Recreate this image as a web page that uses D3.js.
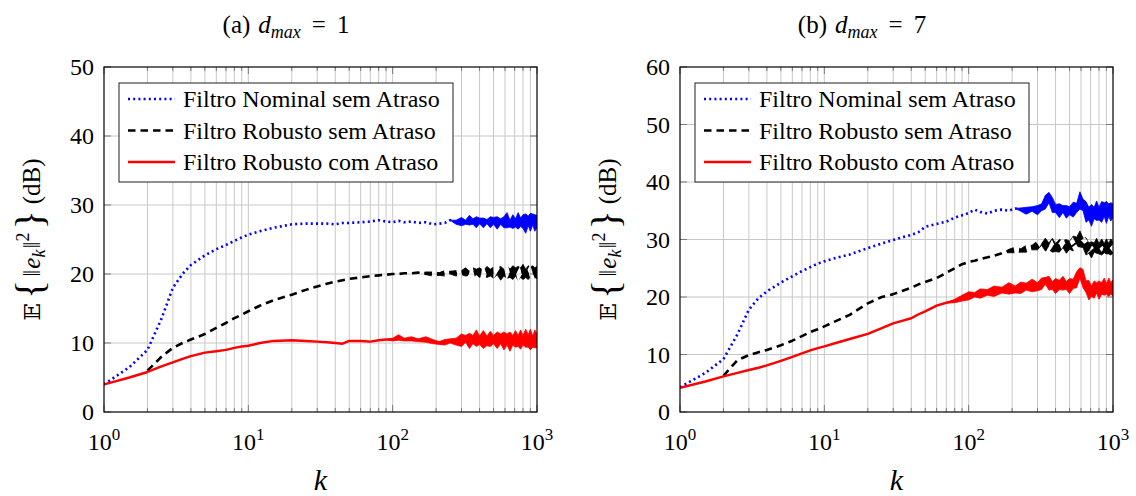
<!DOCTYPE html>
<html>
<head>
<meta charset="utf-8">
<script src="https://cdn.jsdelivr.net/npm/d3@7"></script>
<style>
  body { margin: 0; background: #fff; }
  svg { display: block; }
  text { font-family: "Liberation Serif", "Times New Roman", serif; fill: #000; }
</style>
</head>
<body>
<svg id="chart" width="1136" height="496" font-family="Liberation Serif, serif"></svg>
<script>
// Iteration index k (sampling nodes shared by every curve)
const kValues = [1, 1.5, 2, 2.5, 3, 3.5, 4, 5, 6, 7, 8, 9, 10, 12, 15, 20, 25, 30, 35, 40, 45, 50,
  60, 70, 80, 90, 100, 110, 120, 135, 150, 170, 190, 210, 230, 250, 275, 300, 320, 340, 360, 380,
  400, 425, 450, 475, 500, 530, 560, 590, 620, 650, 680, 710, 740, 770, 800, 835, 870, 900, 935, 965, 1000];

const seriesNames = ["Filtro Nominal sem Atraso", "Filtro Robusto sem Atraso", "Filtro Robusto com Atraso"];

// (a) d_max = 1 : mean squared error in dB
const nominalA = [4.0, 6.5, 9.0, 13.5, 18.0, 20.0, 21.3, 22.7, 23.6, 24.2, 24.8, 25.3, 25.7, 26.2, 26.7, 27.2, 27.3, 27.3, 27.3, 27.2, 27.4, 27.4,
  27.5, 27.6, 27.8, 27.6, 27.5, 27.7, 27.5, 27.6, 27.4, 27.5, 27.2, 27.3, 27.4, 27.8, 27.5, 27.6, 27.5, 27.8, 27.6, 27.5,
  27.7, 27.4, 27.6, 27.5, 27.7, 27.4, 27.6, 27.5, 27.8, 27.3, 27.6, 27.4, 27.7, 27.5, 27.6, 27.3, 27.7, 27.5, 27.9, 27.4, 27.6];
const robustoA = [null, null, 6.0, 8.0, 9.3, 10.0, 10.5, 11.3, 12.2, 12.9, 13.6, 14.1, 14.6, 15.4, 16.2, 17.0, 17.7, 18.2, 18.6, 18.9, 19.1, 19.3,
  19.5, 19.7, 19.8, 19.9, 20.0, 20.0, 20.1, 20.1, 20.2, 20.1, 20.0, 20.0, 20.1, 20.2, 20.1, 20.2, 20.3, 20.1, 20.2, 20.3,
  20.2, 20.1, 20.3, 20.2, 20.2, 20.4, 20.1, 20.2, 20.3, 20.1, 20.2, 20.3, 20.1, 20.2, 20.3, 20.1, 20.2, 20.3, 20.1, 20.2, 20.2];
const atrasoA = [4.0, 5.0, 5.8, 6.6, 7.2, 7.7, 8.1, 8.6, 8.8, 9.0, 9.3, 9.5, 9.6, 10.0, 10.3, 10.4, 10.3, 10.2, 10.1, 10.0, 9.9, 10.3,
  10.3, 10.2, 10.4, 10.5, 10.5, 10.8, 10.5, 10.6, 10.4, 10.5, 10.2, 10.0, 10.1, 10.3, 10.2, 10.4, 10.6, 10.3, 10.5, 10.7,
  10.4, 10.5, 10.3, 10.6, 10.5, 10.4, 10.6, 10.3, 10.5, 10.2, 10.4, 10.6, 10.3, 10.5, 10.4, 10.7, 10.3, 10.5, 10.2, 10.6, 10.3];
// half-width of the fluctuation around each curve (dB)
const nominalSpreadA = [0, 0, 0, 0, 0, 0, 0, 0, 0, 0, 0, 0, 0, 0, 0, 0, 0, 0, 0, 0, 0, 0,
  0, 0, 0, 0, 0, 0, 0, 0, 0, 0, 0, 0, 0, 0, 0.3, 0.6, 0.3, 0.7, 0.4, 0.8,
  0.4, 0.7, 0.3, 0.8, 0.5, 0.9, 0.4, 0.8, 1.1, 0.5, 1.0, 0.6, 1.2, 0.6, 1.0, 1.4, 0.7, 1.3, 0.8, 1.2, 0.9];
const robustoSpreadA = [0, 0, 0, 0, 0, 0, 0, 0, 0, 0, 0, 0, 0, 0, 0, 0, 0, 0, 0, 0, 0, 0,
  0, 0, 0, 0, 0, 0, 0, 0, 0, 0.2, 0.3, 0.2, 0.4, 0.2, 0.4, 0.3, 0.6, 0.3, 0.7, 0.4,
  0.7, 0.4, 0.8, 0.5, 0.8, 0.5, 1.0, 0.5, 0.9, 0.6, 1.0, 0.6, 1.0, 0.7, 1.1, 0.6, 1.0, 0.7, 1.1, 0.7, 0.9];
const atrasoSpreadA = [0, 0, 0, 0, 0, 0, 0, 0, 0, 0, 0, 0, 0, 0, 0, 0, 0, 0, 0, 0, 0, 0,
  0, 0, 0, 0, 0.2, 0.4, 0.2, 0.3, 0.2, 0.4, 0.3, 0.2, 0.4, 0.3, 0.5, 0.9, 0.5, 1.1, 0.6, 1.2,
  0.6, 1.3, 0.7, 1.1, 0.6, 1.2, 0.7, 1.3, 0.8, 1.4, 0.7, 1.2, 0.8, 1.4, 0.7, 1.3, 0.9, 1.5, 0.8, 1.3, 1.0];

// (b) d_max = 7
const nominalB = [4.3, 6.8, 9.2, 13.5, 17.8, 19.8, 21.0, 22.5, 23.6, 24.5, 25.2, 25.8, 26.2, 26.8, 27.4, 28.5, 29.3, 29.9, 30.4, 30.8, 31.3, 32.2,
  32.7, 33.1, 33.8, 34.2, 34.6, 35.2, 34.8, 34.5, 35.0, 35.2, 35.0, 35.4, 35.2, 35.0, 35.3, 35.1, 35.6, 36.5, 37.3, 36.0,
  35.4, 35.0, 35.3, 34.8, 35.0, 35.2, 35.5, 36.8, 36.0, 34.8, 34.5, 34.2, 34.6, 35.0, 34.5, 34.8, 35.2, 34.7, 35.1, 34.8, 35.0];
const robustoB = [null, null, 6.3, 9.0, 9.9, 10.4, 10.8, 11.6, 12.4, 13.2, 13.9, 14.4, 14.9, 15.8, 16.9, 18.9, 20.0, 20.5, 21.1, 21.6, 22.2, 22.6,
  23.3, 24.2, 25.0, 25.7, 26.1, 26.3, 26.6, 26.9, 27.2, 27.6, 28.0, 28.2, 28.1, 28.4, 28.6, 29.0, 29.5, 29.1, 28.8, 29.0,
  28.6, 28.9, 29.2, 28.8, 29.0, 29.3, 29.6, 30.1, 29.4, 28.8, 28.5, 28.2, 28.6, 28.9, 28.4, 28.7, 28.5, 28.8, 28.4, 28.7, 28.6];
const atrasoB = [4.2, 5.3, 6.2, 6.8, 7.3, 7.7, 8.1, 8.9, 9.6, 10.2, 10.7, 11.1, 11.4, 12.0, 12.7, 13.6, 14.6, 15.4, 15.9, 16.3, 17.0, 17.5,
  18.5, 19.0, 19.3, 19.8, 20.2, 20.4, 20.6, 20.8, 21.0, 21.2, 21.5, 21.3, 21.6, 21.8, 22.0, 21.8, 22.3, 22.8, 22.4, 22.0,
  21.9, 22.1, 22.4, 22.0, 21.9, 22.3, 23.0, 24.2, 23.2, 21.8, 21.2, 21.0, 21.3, 21.6, 21.2, 21.5, 21.8, 21.4, 21.7, 21.5, 21.6];
const nominalSpreadB = [0, 0, 0, 0, 0, 0, 0, 0, 0, 0, 0, 0, 0, 0, 0, 0, 0, 0, 0, 0, 0, 0,
  0, 0, 0, 0, 0, 0, 0, 0, 0, 0, 0, 0, 0.3, 0.6, 0.4, 0.8, 0.6, 1.2, 0.9, 1.3,
  0.7, 1.2, 0.6, 1.1, 0.7, 1.3, 0.8, 1.5, 1.0, 1.8, 1.1, 1.9, 1.0, 1.7, 1.1, 1.8, 1.2, 1.9, 1.1, 1.6, 1.2];
const robustoSpreadB = [0, 0, 0, 0, 0, 0, 0, 0, 0, 0, 0, 0, 0, 0, 0, 0, 0, 0, 0, 0, 0, 0,
  0, 0, 0, 0, 0, 0, 0, 0, 0, 0, 0.3, 0.5, 0.3, 0.6, 0.4, 0.8, 0.5, 1.1, 0.6, 1.2,
  0.7, 1.1, 0.6, 1.2, 0.7, 1.3, 0.8, 1.4, 0.8, 1.5, 0.9, 1.4, 0.8, 1.3, 0.9, 1.4, 0.8, 1.3, 0.9, 1.4, 1.0];
const atrasoSpreadB = [0, 0, 0, 0, 0, 0, 0, 0, 0, 0, 0, 0, 0, 0, 0, 0, 0, 0, 0, 0, 0, 0,
  0, 0, 0.3, 0.5, 0.7, 0.4, 0.8, 0.5, 0.9, 0.5, 1.0, 0.6, 1.0, 0.6, 1.1, 0.7, 1.0, 0.6, 1.2, 0.7,
  1.3, 0.8, 1.2, 0.7, 1.3, 0.8, 1.4, 0.9, 1.6, 1.0, 1.7, 0.9, 1.5, 0.9, 1.6, 1.0, 1.5, 0.9, 1.6, 1.0, 1.4];

const xTickValues = [1, 10, 100, 1000];
const yTicksA = [0, 10, 20, 30, 40, 50];
const yTicksB = [0, 10, 20, 30, 40, 50, 60];

// drawing styles for the three curves
const styles = [
  { color: "#0000ff", width: 2.6, dash: "2,3.2", maskBand: false },
  { color: "#000000", width: 2.6, dash: "7.5,5", maskBand: true },
  { color: "#ff0000", width: 2.4, dash: null, maskBand: false }
];

const svg = d3.select("#chart");
const defs = svg.append("defs");

const panels = [
  { id: "a", left: 104, right: 537, top: 67, bottom: 412, yMax: 50, yTicks: yTicksA,
    label: "a", dval: "1", titleX: 286, ylabelX: 40,
    series: [[nominalA, nominalSpreadA], [robustoA, robustoSpreadA], [atrasoA, atrasoSpreadA]] },
  { id: "b", left: 680, right: 1113, top: 67, bottom: 412, yMax: 60, yTicks: yTicksB,
    label: "b", dval: "7", titleX: 862, ylabelX: 616,
    series: [[nominalB, nominalSpreadB], [robustoB, robustoSpreadB], [atrasoB, atrasoSpreadB]] }
];

panels.forEach(p => {
  const x = d3.scaleLog().domain([1, 1000]).range([p.left, p.right]);
  const y = d3.scaleLinear().domain([0, p.yMax]).range([p.bottom, p.top]);
  const g = svg.append("g");

  // minor + major vertical grid
  const minor = [];
  [1, 10, 100].forEach(d => { for (let m = 2; m <= 9; m++) minor.push(m * d); });
  g.append("g").selectAll("line").data(minor.concat([10, 100])).join("line")
    .attr("x1", d => x(d)).attr("x2", d => x(d))
    .attr("y1", p.top).attr("y2", p.bottom)
    .attr("stroke", "#c8c8c8").attr("stroke-width", 1);
  // horizontal grid
  g.append("g").selectAll("line").data(p.yTicks.filter(v => v > 0 && v < p.yMax)).join("line")
    .attr("x1", p.left).attr("x2", p.right)
    .attr("y1", d => y(d)).attr("y2", d => y(d))
    .attr("stroke", "#c8c8c8").attr("stroke-width", 1);

  // tick marks inside the frame (bottom/top on x, left/right on y)
  const tickG = g.append("g").attr("stroke", "#7a7a7a").attr("stroke-width", 1);
  minor.forEach(k => {
    tickG.append("line").attr("x1", x(k)).attr("x2", x(k)).attr("y1", p.bottom).attr("y2", p.bottom - 4);
    tickG.append("line").attr("x1", x(k)).attr("x2", x(k)).attr("y1", p.top).attr("y2", p.top + 4);
  });
  xTickValues.forEach(k => {
    tickG.append("line").attr("x1", x(k)).attr("x2", x(k)).attr("y1", p.bottom).attr("y2", p.bottom - 7);
    tickG.append("line").attr("x1", x(k)).attr("x2", x(k)).attr("y1", p.top).attr("y2", p.top + 7);
  });
  p.yTicks.forEach(v => {
    tickG.append("line").attr("x1", p.left).attr("x2", p.left + 7).attr("y1", y(v)).attr("y2", y(v));
    tickG.append("line").attr("x1", p.right).attr("x2", p.right - 7).attr("y1", y(v)).attr("y2", y(v));
  });

  // clip region for curves
  const clipId = "clip-" + p.id;
  defs.append("clipPath").attr("id", clipId).append("rect")
    .attr("x", p.left).attr("y", p.top).attr("width", p.right - p.left).attr("height", p.bottom - p.top);
  const plot = g.append("g").attr("clip-path", `url(#${clipId})`);

  p.series.forEach(([vals, spread], i) => {
    const st = styles[i];
    const pts = kValues.map((k, j) => ({ k, v: vals[j], s: spread[j] }));
    const line = d3.line().defined(d => d.v !== null).x(d => x(d.k)).y(d => y(d.v));
    // fluctuation band
    const bandPts = pts.filter((d, j) => d.v !== null && (d.s > 0 || (spread[j + 1] > 0)));
    const area = d3.area().x(d => x(d.k)).y0(d => y(d.v - d.s)).y1(d => y(d.v + d.s));
    const band = plot.append("path").datum(bandPts).attr("d", area)
      .attr("fill", st.color).attr("stroke", st.color).attr("stroke-width", 0.8);
    if (st.maskBand) {
      const maskId = "mask-" + p.id + i;
      defs.append("mask").attr("id", maskId).attr("maskUnits", "userSpaceOnUse")
        .attr("x", 0).attr("y", 0).attr("width", 1136).attr("height", 496)
        .append("path").datum(pts).attr("d", line)
        .attr("fill", "none").attr("stroke", "#fff").attr("stroke-width", 30)
        .attr("stroke-dasharray", st.dash);
      band.attr("mask", `url(#${maskId})`);
    }
    plot.append("path").datum(pts).attr("d", line)
      .attr("fill", "none").attr("stroke", st.color).attr("stroke-width", st.width)
      .attr("stroke-dasharray", st.dash).attr("stroke-linejoin", "round");
  });

  // frame
  g.append("rect").attr("x", p.left).attr("y", p.top)
    .attr("width", p.right - p.left).attr("height", p.bottom - p.top)
    .attr("fill", "none").attr("stroke", "#000").attr("stroke-width", 1.2);

  // y tick labels
  g.append("g").selectAll("text").data(p.yTicks).join("text")
    .attr("x", p.left - 10).attr("y", d => y(d) + 8)
    .attr("text-anchor", "end").attr("font-size", 24).text(d => d);

  // x tick labels 10^n
  xTickValues.forEach(k => {
    const t = g.append("text").attr("x", x(k)).attr("y", p.bottom + 38)
      .attr("text-anchor", "middle").attr("font-size", 24);
    t.append("tspan").text("10");
    t.append("tspan").attr("font-size", 17).attr("dy", -10).text(Math.round(Math.log10(k)));
  });

  // x axis label
  g.append("text").attr("x", (p.left + p.right) / 2).attr("y", 490)
    .attr("text-anchor", "middle").attr("font-size", 30).attr("font-style", "italic").text("k");

  // y axis label: E{ ||e_k||^2 } (dB)
  const yl = g.append("text")
    .attr("transform", `translate(${p.ylabelX},${(p.top + p.bottom) / 2}) rotate(-90)`)
    .attr("text-anchor", "middle").attr("font-size", 25);
  yl.append("tspan").attr("font-family", "DejaVu Serif, DejaVu Sans").attr("font-size", 23).text("\u{1D53C}");
  yl.append("tspan").attr("font-size", 40).attr("dx", 4).attr("dy", 3).text("{");
  yl.append("tspan").attr("dx", 3).attr("dy", -3).text("\u2016");
  yl.append("tspan").attr("font-style", "italic").attr("dx", 1).text("e");
  yl.append("tspan").attr("font-style", "italic").attr("font-size", 18).attr("dy", 5).text("k");
  yl.append("tspan").attr("dx", 1).attr("dy", -5).text("\u2016");
  yl.append("tspan").attr("font-size", 18).attr("dy", -11).text("2");
  yl.append("tspan").attr("font-size", 40).attr("dx", 3).attr("dy", 14).text("}");
  yl.append("tspan").attr("dx", 6).attr("dy", -3).text("(dB)");

  // panel caption
  const tt = svg.append("text").attr("x", p.titleX).attr("y", 33)
    .attr("text-anchor", "middle").attr("font-size", 25);
  tt.append("tspan").text(`(${p.label})`);
  tt.append("tspan").attr("font-style", "italic").attr("dx", 8).text("d");
  tt.append("tspan").attr("font-style", "italic").attr("font-size", 18).attr("dy", 5).text("max");
  tt.append("tspan").attr("dx", 11).attr("dy", -5).text("=");
  tt.append("tspan").attr("dx", 11).text(p.dval);

  // legend
  const lx = p.left + 15, ly = 83;
  const lg = g.append("g");
  lg.append("rect").attr("x", lx).attr("y", ly).attr("width", 334).attr("height", 99)
    .attr("fill", "#fff").attr("stroke", "#333").attr("stroke-width", 1.1);
  seriesNames.forEach((name, i) => {
    const st = styles[i];
    const cy = ly + 16 + i * 31.5;
    lg.append("line").attr("x1", lx + 9).attr("x2", lx + 56).attr("y1", cy).attr("y2", cy)
      .attr("stroke", st.color).attr("stroke-width", st.width).attr("stroke-dasharray", st.dash);
    lg.append("text").attr("x", lx + 64).attr("y", cy + 8).attr("font-size", 24).text(name);
  });
});
</script>
</body>
</html>
